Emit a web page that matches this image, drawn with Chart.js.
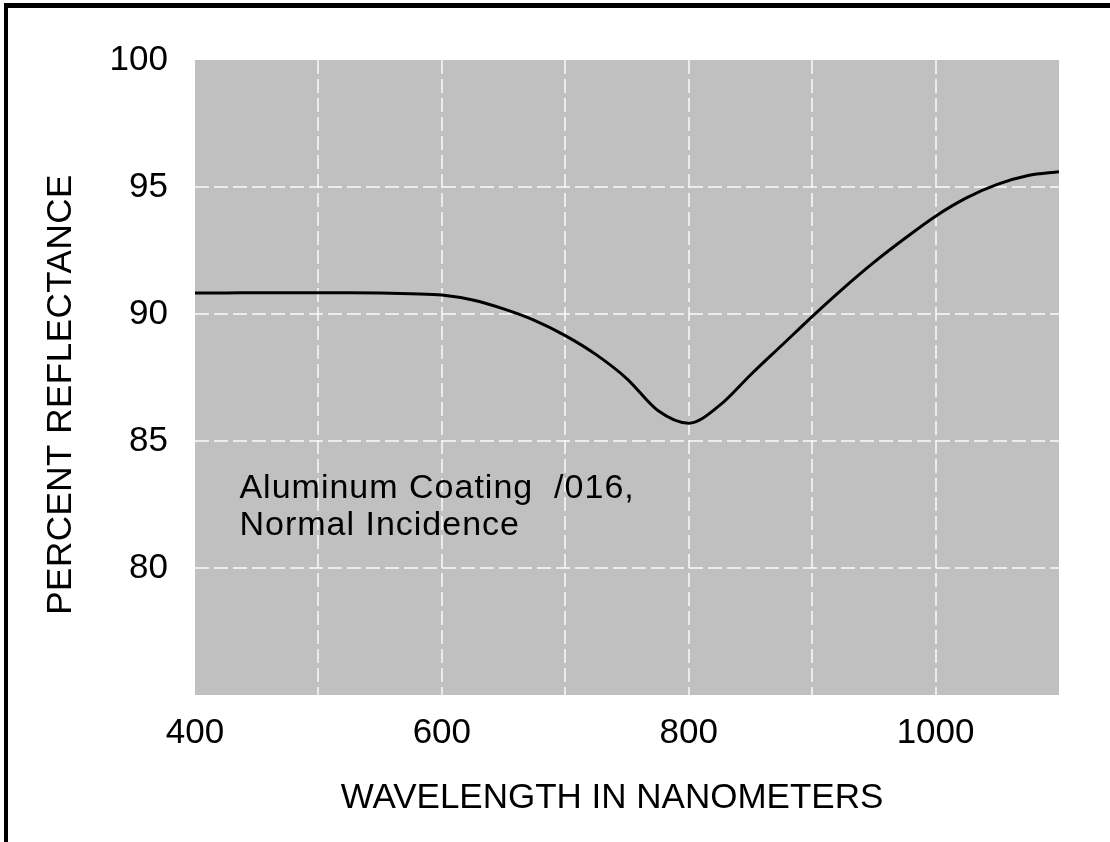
<!DOCTYPE html>
<html>
<head>
<meta charset="utf-8">
<title>Aluminum Coating /016 - Percent Reflectance</title>
<script src="https://cdn.jsdelivr.net/npm/chart.js@4.4.1/dist/chart.umd.min.js"></script>
<style>
    html, body { margin: 0; padding: 0; background: #fff; }
    #wrap { position: relative; width: 1110px; height: 842px; }
</style>
</head>
<body>
<div id="wrap"><canvas id="reflectance-chart" width="1110" height="842"></canvas></div>
<script>
// Wavelength (nm) and percent reflectance, every 25 nm
var wavelengths = [400, 425, 450, 475, 500, 525, 550, 575, 600, 625, 650, 675, 700, 725, 750, 775,
                   800, 825, 850, 875, 900, 925, 950, 975, 1000, 1025, 1050, 1075, 1100];
var reflectance = [90.83, 90.83, 90.84, 90.84, 90.84, 90.84, 90.83, 90.8, 90.75, 90.55, 90.2, 89.75, 89.15, 88.4, 87.45, 86.2,
                   85.7, 86.4, 87.6, 88.75, 89.9, 91.0, 92.03, 92.97, 93.85, 94.57, 95.1, 95.45, 95.6];

// Tick labels that are printed on each axis
var xTickLabels = [400, 600, 800, 1000];
var yTickLabels = [80, 85, 90, 95, 100];

var xTitle = 'WAVELENGTH IN NANOMETERS';
var yTitle = 'PERCENT REFLECTANCE';
var noteLines = ['Aluminum Coating  /016,', 'Normal Incidence'];

var FONT = "'Liberation Sans', Arial, Helvetica, sans-serif";

document.addEventListener('DOMContentLoaded', function() {
    drawChart();
});

function drawChart() {
    var points = wavelengths.map(function(w, i) {
        return { x: w, y: reflectance[i] };
    });

    var paperPlugin = {
        id: 'paper',
        beforeDraw: function(chart) {
            var ctx = chart.ctx;
            var area = chart.chartArea;
            ctx.save();
            ctx.fillStyle = '#ffffff';
            ctx.fillRect(0, 0, chart.width, chart.height);
            // frame of the scanned page (left and top edges)
            ctx.fillStyle = '#000000';
            ctx.fillRect(4, 3, 4, chart.height - 3);
            ctx.fillRect(4, 3, chart.width - 4, 5);
            // shaded plot field
            ctx.fillStyle = '#c0c0c0';
            ctx.fillRect(area.left, area.top, area.right - area.left, area.bottom - area.top);
            ctx.restore();
        },
        afterDraw: function(chart) {
            var ctx = chart.ctx;
            var area = chart.chartArea;
            var xs = chart.scales.x;
            var ys = chart.scales.y;
            ctx.save();
            ctx.fillStyle = '#000000';

            // axis titles
            ctx.font = '35px ' + FONT;
            ctx.textAlign = 'center';
            ctx.textBaseline = 'middle';
            ctx.fillText(xTitle, (area.left + area.right) / 2 - 15, area.bottom + 103);

            ctx.save();
            ctx.translate(61, (area.top + area.bottom) / 2 + 17);
            ctx.rotate(-Math.PI / 2);
            ctx.letterSpacing = '0.5px';
            ctx.fillText(yTitle, 0, 0);
            ctx.restore();

            // note inside the plot
            ctx.font = '34px ' + FONT;
            ctx.letterSpacing = '1px';
            ctx.textAlign = 'left';
            ctx.textBaseline = 'alphabetic';
            var nx = xs.getPixelForValue(436);
            var ny = ys.getPixelForValue(82.75);
            noteLines.forEach(function(line, i) {
                ctx.fillText(line, nx, ny + i * 37);
            });
            ctx.restore();
        }
    };

    new Chart(document.getElementById('reflectance-chart'), {
        type: 'line',
        data: {
            datasets: [{
                data: points,
                borderColor: '#000000',
                borderWidth: 3,
                pointRadius: 0,
                fill: false,
                cubicInterpolationMode: 'monotone'
            }]
        },
        options: {
            responsive: false,
            devicePixelRatio: 1,
            animation: false,
            layout: { padding: { top: 60, right: 51, left: 0, bottom: 0 } },
            plugins: { legend: { display: false }, tooltip: { enabled: false } },
            scales: {
                x: {
                    type: 'linear',
                    min: 400,
                    max: 1100,
                    afterFit: function(scale) { scale.height = 147; },
                    border: { display: false, dash: [14, 5] },
                    grid: {
                        drawTicks: false,
                        lineWidth: 2,
                        color: function(c) {
                            var v = c.tick ? c.tick.value : null;
                            return (v === 400 || v === 1100) ? 'rgba(0,0,0,0)' : 'rgba(255,255,255,0.7)';
                        }
                    },
                    ticks: {
                        stepSize: 100,
                        padding: 17,
                        color: '#000000',
                        font: { family: FONT, size: 35 },
                        maxRotation: 0,
                        autoSkip: false,
                        callback: function(v) { return xTickLabels.indexOf(v) >= 0 ? String(v) : ''; }
                    }
                },
                y: {
                    min: 75,
                    max: 100,
                    afterFit: function(scale) { scale.width = 195; },
                    border: { display: false, dash: [14, 5] },
                    grid: {
                        drawTicks: false,
                        lineWidth: 2,
                        color: function(c) {
                            var v = c.tick ? c.tick.value : null;
                            return (v === 75 || v === 100) ? 'rgba(0,0,0,0)' : 'rgba(255,255,255,0.7)';
                        }
                    },
                    ticks: {
                        stepSize: 5,
                        padding: 27,
                        color: '#000000',
                        font: { family: FONT, size: 35 },
                        callback: function(v) { return yTickLabels.indexOf(v) >= 0 ? String(v) : ''; }
                    }
                }
            }
        },
        plugins: [paperPlugin]
    });
}
</script>
</body>
</html>
